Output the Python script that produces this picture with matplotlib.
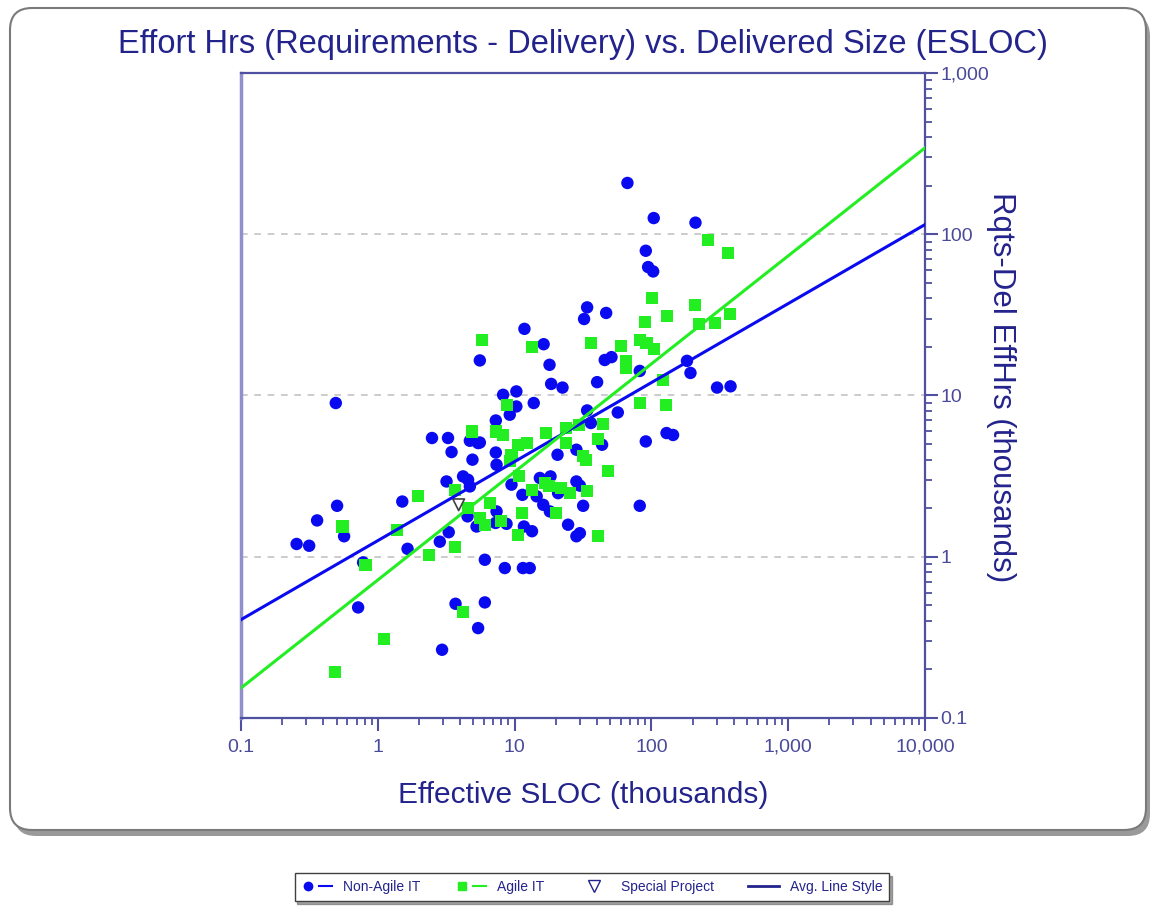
import matplotlib
matplotlib.use('Agg')
import matplotlib.pyplot as plt
import numpy as np
from matplotlib.patches import FancyBboxPatch
from matplotlib.lines import Line2D
from matplotlib.legend_handler import HandlerTuple
from matplotlib.ticker import FixedLocator, FixedFormatter, LogLocator, NullFormatter

plt.rcParams['font.family'] = ['Liberation Sans', 'DejaVu Sans']

# Non-Agile IT projects: effective size (KESLOC) vs. effort hours (thousands)
nonagile_size = [66.8, 104, 210, 91, 94.6, 103, 33.9, 32.2, 46.7, 11.8, 16.3, 18.0, 18.5, 22.4, 40.1,
                 45.6, 51.1, 82.2, 182, 193, 302, 379, 5.57, 8.24, 10.3, 13.8, 10.3, 9.22, 7.29, 33.9,
                 56.8, 36.1, 91, 129, 144, 43.6, 7.29, 20.6, 28.3, 5.57, 0.493, 2.49, 3.26, 4.71, 5.41,
                 3.46, 4.92, 7.38, 3.18, 4.20, 4.57, 4.71, 0.504, 1.51, 0.360, 0.567, 0.255, 0.315, 1.65,
                 2.84, 3.30, 0.781, 4.53, 5.27, 7.38, 7.25, 8.73, 11.7, 13.4, 9.49, 11.4, 14.5, 16.2,
                 18.1, 15.3, 18.3, 20.8, 28.3, 30.0, 31.7, 24.6, 28.3, 30.0, 6.06, 8.48, 11.5, 12.9,
                 0.718, 3.70, 6.06, 5.41, 2.95, 82.2]
nonagile_effort = [208, 126, 118, 79, 62.6, 58.8, 35.2, 29.8, 32.5, 25.9, 20.8, 15.5, 11.8, 11.2, 12.1,
                   16.6, 17.3, 14.2, 16.4, 13.8, 11.2, 11.4, 16.5, 10.1, 10.6, 8.98, 8.55, 7.60, 7.00, 8.08,
                   7.85, 6.75, 5.19, 5.85, 5.69, 4.95, 4.43, 4.29, 4.61, 5.11, 8.98, 5.45, 5.45, 5.24, 5.07,
                   4.46, 4.0, 3.72, 2.93, 3.15, 3.0, 2.73, 2.07, 2.20, 1.68, 1.34, 1.20, 1.17, 1.12,
                   1.24, 1.42, 0.922, 1.78, 1.54, 1.91, 1.62, 1.60, 1.54, 1.44, 2.80, 2.42, 2.37, 2.10,
                   1.91, 3.08, 3.15, 2.48, 2.93, 2.76, 2.07, 1.58, 1.34, 1.40, 0.958, 0.851, 0.851, 0.851,
                   0.485, 0.511, 0.521, 0.361, 0.265, 2.07]

# Agile IT projects
agile_size = [258, 364, 101, 208, 129, 89.1, 222, 294, 374, 36.1, 59.7, 83.2, 92.1, 104, 64.7, 64.7,
              13.5, 5.73, 121, 82.2, 127, 8.87, 44.4, 40.8, 17.1, 23.9, 29.5, 23.7, 7.29, 8.16, 10.6,
              12.4, 9.49, 31.7, 4.89, 9.22, 33.5, 10.7, 3.66, 1.97, 4.57, 6.59, 13.3, 16.6, 17.9, 21.8,
              25.3, 34.0, 11.4, 20.0, 5.57, 6.06, 7.89, 10.6, 0.552, 1.39, 0.813, 2.37, 3.66, 4.20,
              1.11, 0.485, 48.3, 40.8]
agile_effort = [92, 76.4, 40.0, 36.4, 31.2, 28.4, 27.9, 28.3, 31.8, 21.2, 20.4, 22.1, 21.1, 19.5, 16.3,
                14.8, 19.9, 22.2, 12.5, 8.98, 8.76, 8.76, 6.68, 5.37, 5.85, 6.28, 6.59, 5.07, 5.98, 5.71,
                4.95, 5.11, 4.29, 4.23, 5.98, 3.90, 4.0, 3.15, 2.60, 2.37, 2.0, 2.15, 2.60, 2.86, 2.76,
                2.67, 2.48, 2.54, 1.88, 1.88, 1.74, 1.58, 1.66, 1.37, 1.54, 1.47, 0.892, 1.02, 1.15,
                0.454, 0.309, 0.192, 3.42, 1.35]

special_size = [3.9]
special_effort = [2.1]

# trend lines: log10(effort) = a + b * log10(size)
nonagile_fit = (0.10, 0.49)
agile_fit = (-0.144, 0.67)

x_ticks = [0.1, 1, 10, 100, 1000, 10000]
x_labels = ['0.1', '1', '10', '100', '1,000', '10,000']
y_ticks = [0.1, 1, 10, 100, 1000]
y_labels = ['0.1', '1', '10', '100', '1,000']

navy = '#23238c'
tick_col = '#4a4a9a'
blue = '#0a0af0'
green = '#22ee22'

W, H = 11.59, 9.13
fig = plt.figure(figsize=(W, H), dpi=100)

# rounded frame with shadow (in inches)
shadow = FancyBboxPatch((0.14, H - 8.36), 11.36, 8.22, boxstyle='round,pad=0,rounding_size=0.22',
                        transform=fig.dpi_scale_trans, facecolor='#9a9a9a', edgecolor='none', zorder=-3)
frame = FancyBboxPatch((0.10, H - 8.30), 11.36, 8.22, boxstyle='round,pad=0,rounding_size=0.22',
                       transform=fig.dpi_scale_trans, facecolor='white', edgecolor='#7a7a7a',
                       linewidth=1.5, zorder=-2)
fig.patches.extend([shadow, frame])

ax = fig.add_axes([241 / 1159, 1 - 718 / 913, (925 - 241) / 1159, (718 - 73) / 913])
ax.set_zorder(2)
ax.set_xscale('log')
ax.set_yscale('log')
ax.set_xlim(0.1, 10000)
ax.set_ylim(0.1, 1000)
ax.set_facecolor('white')

ax.grid(axis='y', which='major', linestyle=(0, (4, 4)), color='#c4c4c4', linewidth=1.2, zorder=0)

ax.scatter(nonagile_size, nonagile_effort, marker='o', s=80, color=blue, edgecolors='none', zorder=3)
ax.scatter(agile_size, agile_effort, marker='s', s=75, color=green, edgecolors='none', zorder=3)
ax.scatter(special_size, special_effort, marker='v', s=70, facecolors='none', edgecolors='#404040',
           linewidths=1.2, zorder=4)

xs = np.logspace(-1, 4, 50)
ax.plot(xs, 10 ** (nonagile_fit[0] + nonagile_fit[1] * np.log10(xs)), color=blue, lw=2.2, zorder=4)
ax.plot(xs, 10 ** (agile_fit[0] + agile_fit[1] * np.log10(xs)), color=green, lw=2.2, zorder=4)

ax.yaxis.tick_right()
ax.xaxis.set_major_locator(FixedLocator(x_ticks))
ax.xaxis.set_major_formatter(FixedFormatter(x_labels))
ax.yaxis.set_major_locator(FixedLocator(y_ticks))
ax.yaxis.set_major_formatter(FixedFormatter(y_labels))
ax.xaxis.set_minor_locator(LogLocator(base=10, subs=np.arange(2, 10)))
ax.yaxis.set_minor_locator(LogLocator(base=10, subs=np.arange(2, 10)))
ax.xaxis.set_minor_formatter(NullFormatter())
ax.yaxis.set_minor_formatter(NullFormatter())
ax.tick_params(which='major', direction='out', length=9, width=1.5, color='#5050a0',
               labelcolor=tick_col, labelsize=14, pad=6)
ax.tick_params(which='minor', direction='out', length=5, width=1.3, color='#5050a0')
ax.tick_params(axis='y', which='both', right=True, left=False)
ax.tick_params(axis='y', which='major', pad=2)

for side in ['top', 'bottom', 'right']:
    ax.spines[side].set_color('#5050a0')
    ax.spines[side].set_linewidth(1.6)
ax.spines['left'].set_color('#9090cc')
ax.spines['left'].set_linewidth(2.5)

fig.text(583 / 1159, 1 - 45 / 913, 'Effort Hrs (Requirements - Delivery) vs. Delivered Size (ESLOC)',
         ha='center', va='center', fontsize=23.5, color=navy)
fig.text(583 / 1159, 1 - 795 / 913, 'Effective SLOC (thousands)',
         ha='center', va='center', fontsize=21.5, color=navy)
fig.text(1001 / 1159, 1 - 387 / 913, 'Rqts-Del EffHrs (thousands)', rotation=270,
         ha='center', va='center', fontsize=22.5, color=navy)

# legend
h_nonagile = (Line2D([], [], marker='o', color=blue, ls='none', markersize=6),
              Line2D([], [], color=blue, lw=1.5))
h_agile = (Line2D([], [], marker='s', color=green, ls='none', markersize=6),
           Line2D([], [], color=green, lw=1.5))
h_special = Line2D([], [], marker='v', ls='none', markerfacecolor='none', markeredgecolor=navy,
                   markersize=9)
h_avg = Line2D([], [], color=navy, lw=2)
leg = fig.legend([h_nonagile, h_agile, h_special, h_avg],
                 ['Non-Agile IT', 'Agile IT', 'Special Project', 'Avg. Line Style'],
                 handler_map={tuple: HandlerTuple(ndivide=None, pad=0.3)},
                 loc='center', bbox_to_anchor=(592 / 1159, 1 - 887 / 913), ncol=4,
                 fontsize=10, frameon=True, fancybox=False, shadow=True,
                 handlelength=2.2, columnspacing=2.5, borderpad=0.5)
leg.get_frame().set_edgecolor('#404040')
leg.get_frame().set_linewidth(1.0)
for t in leg.get_texts():
    t.set_color(navy)

fig.savefig('out.png', dpi=100)
